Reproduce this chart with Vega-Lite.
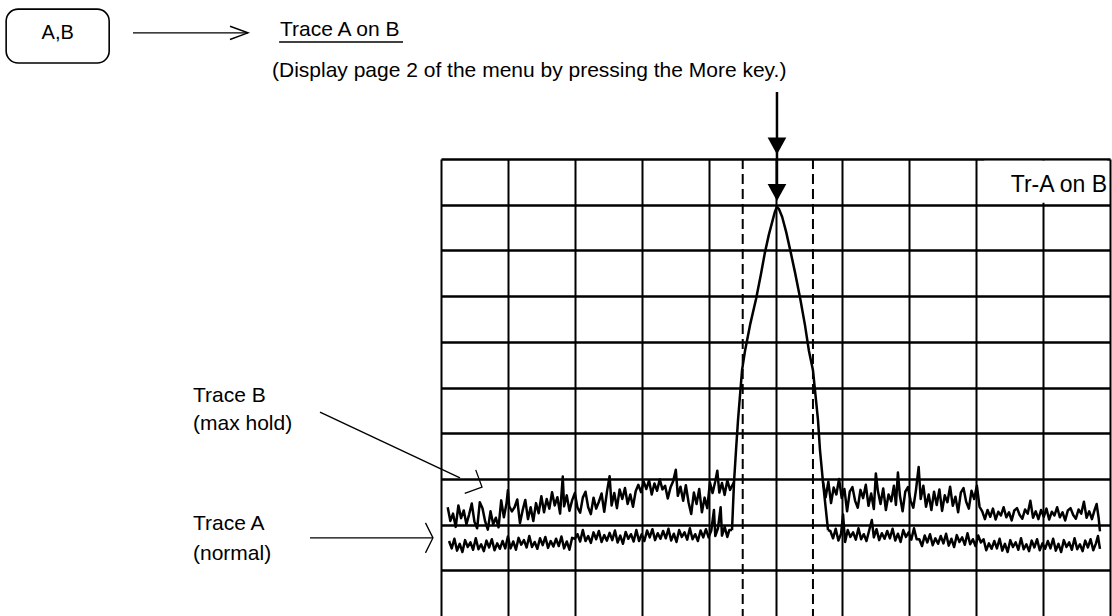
{
  "$schema": "https://vega.github.io/schema/vega-lite/v6.json",
  "width": 669,
  "height": 457,
  "autosize": {"type": "none"},
  "padding": {"left": 441, "top": 159, "right": 2, "bottom": 0},
  "background": "white",
  "config": {"view": {"stroke": null}},
  "datasets": {
    "traces": [
      {"trace":"B1","div":0.10,"dbm":-76.2},{"trace":"B1","div":0.14,"dbm":-79.2},{"trace":"B1","div":0.18,"dbm":-77.6},{"trace":"B1","div":0.22,"dbm":-80.5},{"trace":"B1","div":0.26,"dbm":-75.8},{"trace":"B1","div":0.30,"dbm":-78.6},{"trace":"B1","div":0.34,"dbm":-76.9},{"trace":"B1","div":0.38,"dbm":-79.9},{"trace":"B1","div":0.42,"dbm":-77.8},{"trace":"B1","div":0.46,"dbm":-75.4},{"trace":"B1","div":0.50,"dbm":-79.4},{"trace":"B1","div":0.54,"dbm":-80.8},{"trace":"B1","div":0.58,"dbm":-75.1},{"trace":"B1","div":0.62,"dbm":-76.4},{"trace":"B1","div":0.66,"dbm":-79.3},{"trace":"B1","div":0.70,"dbm":-81.1},{"trace":"B1","div":0.74,"dbm":-77.1},{"trace":"B1","div":0.78,"dbm":-79.9},{"trace":"B1","div":0.82,"dbm":-78.5},{"trace":"B1","div":0.86,"dbm":-80.6},{"trace":"B1","div":0.90,"dbm":-74.7},{"trace":"B1","div":0.94,"dbm":-78.4},{"trace":"B1","div":0.98,"dbm":-75.3},{"trace":"B1","div":1.00,"dbm":-72.5},{"trace":"B1","div":1.02,"dbm":-76.0},{"trace":"B1","div":1.06,"dbm":-77.1},{"trace":"B1","div":1.10,"dbm":-76.2},{"trace":"B1","div":1.14,"dbm":-74.5},{"trace":"B1","div":1.18,"dbm":-79.7},{"trace":"B1","div":1.22,"dbm":-76.9},{"trace":"B1","div":1.26,"dbm":-74.6},{"trace":"B1","div":1.30,"dbm":-78.8},{"trace":"B1","div":1.34,"dbm":-76.2},{"trace":"B1","div":1.38,"dbm":-79.2},{"trace":"B1","div":1.42,"dbm":-75.3},{"trace":"B1","div":1.46,"dbm":-77.5},{"trace":"B1","div":1.50,"dbm":-73.8},{"trace":"B1","div":1.54,"dbm":-77.3},{"trace":"B1","div":1.58,"dbm":-74.4},{"trace":"B1","div":1.62,"dbm":-76.5},{"trace":"B1","div":1.66,"dbm":-72.9},{"trace":"B1","div":1.70,"dbm":-75.8},{"trace":"B1","div":1.74,"dbm":-74.0},{"trace":"B1","div":1.78,"dbm":-77.6},{"trace":"B1","div":1.82,"dbm":-69.5},{"trace":"B1","div":1.84,"dbm":-76.0},{"trace":"B1","div":1.88,"dbm":-73.6},{"trace":"B1","div":1.92,"dbm":-77.0},{"trace":"B1","div":1.96,"dbm":-74.7},{"trace":"B1","div":2.00,"dbm":-73.1},{"trace":"B1","div":2.04,"dbm":-76.3},{"trace":"B1","div":2.08,"dbm":-77.4},{"trace":"B1","div":2.12,"dbm":-74.1},{"trace":"B1","div":2.16,"dbm":-72.8},{"trace":"B1","div":2.20,"dbm":-76.2},{"trace":"B1","div":2.24,"dbm":-77.7},{"trace":"B1","div":2.28,"dbm":-74.1},{"trace":"B1","div":2.32,"dbm":-76.5},{"trace":"B1","div":2.36,"dbm":-75.0},{"trace":"B1","div":2.40,"dbm":-73.2},{"trace":"B1","div":2.44,"dbm":-77.2},{"trace":"B1","div":2.48,"dbm":-72.9},{"trace":"B1","div":2.52,"dbm":-69.4},{"trace":"B1","div":2.55,"dbm":-75.8},{"trace":"B1","div":2.59,"dbm":-73.1},{"trace":"B1","div":2.63,"dbm":-76.4},{"trace":"B1","div":2.67,"dbm":-72.3},{"trace":"B1","div":2.71,"dbm":-74.4},{"trace":"B1","div":2.75,"dbm":-72.0},{"trace":"B1","div":2.79,"dbm":-75.5},{"trace":"B1","div":2.83,"dbm":-73.4},{"trace":"B1","div":2.87,"dbm":-76.1},{"trace":"B1","div":2.91,"dbm":-72.7},{"trace":"B1","div":2.95,"dbm":-71.3},{"trace":"B1","div":2.99,"dbm":-72.9},{"trace":"B1","div":3.03,"dbm":-70.6},{"trace":"B1","div":3.07,"dbm":-72.2},{"trace":"B1","div":3.11,"dbm":-70.3},{"trace":"B1","div":3.15,"dbm":-73.4},{"trace":"B1","div":3.19,"dbm":-71.0},{"trace":"B1","div":3.23,"dbm":-72.6},{"trace":"B1","div":3.27,"dbm":-70.1},{"trace":"B1","div":3.31,"dbm":-72.3},{"trace":"B1","div":3.35,"dbm":-71.5},{"trace":"B1","div":3.39,"dbm":-74.3},{"trace":"B1","div":3.43,"dbm":-71.9},{"trace":"B1","div":3.47,"dbm":-70.5},{"trace":"B1","div":3.51,"dbm":-68.0},{"trace":"B1","div":3.54,"dbm":-73.7},{"trace":"B1","div":3.58,"dbm":-71.7},{"trace":"B1","div":3.62,"dbm":-74.8},{"trace":"B1","div":3.66,"dbm":-71.4},{"trace":"B1","div":3.70,"dbm":-75.1},{"trace":"B1","div":3.74,"dbm":-77.7},{"trace":"B1","div":3.78,"dbm":-73.0},{"trace":"B1","div":3.82,"dbm":-75.5},{"trace":"B1","div":3.86,"dbm":-72.2},{"trace":"B1","div":3.90,"dbm":-77.3},{"trace":"B1","div":3.94,"dbm":-74.1},{"trace":"B1","div":3.98,"dbm":-76.4},{"trace":"B1","div":4.02,"dbm":-70.8},{"trace":"B1","div":4.06,"dbm":-73.1},{"trace":"B1","div":4.10,"dbm":-70.5},{"trace":"B1","div":4.13,"dbm":-68.2},{"trace":"B1","div":4.16,"dbm":-73.0},{"trace":"B1","div":4.20,"dbm":-70.9},{"trace":"B1","div":4.24,"dbm":-73.5},{"trace":"B1","div":4.28,"dbm":-70.3},{"trace":"B1","div":4.32,"dbm":-72.4},{"trace":"B1","div":4.38,"dbm":-70.7},
      {"trace":"A1","div":0.12,"dbm":-83.6},{"trace":"A1","div":0.16,"dbm":-85.2},{"trace":"A1","div":0.20,"dbm":-83.1},{"trace":"A1","div":0.24,"dbm":-85.7},{"trace":"A1","div":0.28,"dbm":-84.2},{"trace":"A1","div":0.32,"dbm":-86.0},{"trace":"A1","div":0.36,"dbm":-83.4},{"trace":"A1","div":0.40,"dbm":-84.9},{"trace":"A1","div":0.44,"dbm":-83.9},{"trace":"A1","div":0.48,"dbm":-85.5},{"trace":"A1","div":0.52,"dbm":-83.0},{"trace":"A1","div":0.56,"dbm":-85.4},{"trace":"A1","div":0.60,"dbm":-84.3},{"trace":"A1","div":0.64,"dbm":-85.8},{"trace":"A1","div":0.68,"dbm":-83.5},{"trace":"A1","div":0.72,"dbm":-85.0},{"trace":"A1","div":0.76,"dbm":-83.2},{"trace":"A1","div":0.80,"dbm":-85.6},{"trace":"A1","div":0.84,"dbm":-84.1},{"trace":"A1","div":0.88,"dbm":-85.3},{"trace":"A1","div":0.92,"dbm":-83.6},{"trace":"A1","div":0.96,"dbm":-85.2},{"trace":"A1","div":1.00,"dbm":-82.6},{"trace":"A1","div":1.04,"dbm":-85.2},{"trace":"A1","div":1.08,"dbm":-83.7},{"trace":"A1","div":1.12,"dbm":-85.5},{"trace":"A1","div":1.16,"dbm":-82.9},{"trace":"A1","div":1.20,"dbm":-84.4},{"trace":"A1","div":1.24,"dbm":-83.4},{"trace":"A1","div":1.28,"dbm":-85.0},{"trace":"A1","div":1.32,"dbm":-82.5},{"trace":"A1","div":1.36,"dbm":-84.9},{"trace":"A1","div":1.40,"dbm":-83.8},{"trace":"A1","div":1.44,"dbm":-85.3},{"trace":"A1","div":1.48,"dbm":-83.0},{"trace":"A1","div":1.52,"dbm":-84.5},{"trace":"A1","div":1.56,"dbm":-82.7},{"trace":"A1","div":1.60,"dbm":-85.1},{"trace":"A1","div":1.64,"dbm":-83.6},{"trace":"A1","div":1.68,"dbm":-84.8},{"trace":"A1","div":1.72,"dbm":-83.1},{"trace":"A1","div":1.76,"dbm":-84.7},{"trace":"A1","div":1.80,"dbm":-82.6},{"trace":"A1","div":1.84,"dbm":-85.2},{"trace":"A1","div":1.88,"dbm":-83.7},{"trace":"A1","div":1.92,"dbm":-85.5},{"trace":"A1","div":1.96,"dbm":-82.9},{"trace":"A1","div":2.00,"dbm":-83.1},{"trace":"A1","div":2.04,"dbm":-82.1},{"trace":"A1","div":2.08,"dbm":-83.7},{"trace":"A1","div":2.12,"dbm":-81.2},{"trace":"A1","div":2.16,"dbm":-83.6},{"trace":"A1","div":2.20,"dbm":-82.5},{"trace":"A1","div":2.24,"dbm":-84.0},{"trace":"A1","div":2.28,"dbm":-81.7},{"trace":"A1","div":2.32,"dbm":-83.2},{"trace":"A1","div":2.36,"dbm":-81.4},{"trace":"A1","div":2.40,"dbm":-83.8},{"trace":"A1","div":2.44,"dbm":-82.3},{"trace":"A1","div":2.48,"dbm":-83.5},{"trace":"A1","div":2.52,"dbm":-81.8},{"trace":"A1","div":2.56,"dbm":-83.4},{"trace":"A1","div":2.60,"dbm":-81.3},{"trace":"A1","div":2.64,"dbm":-83.9},{"trace":"A1","div":2.68,"dbm":-82.4},{"trace":"A1","div":2.72,"dbm":-84.2},{"trace":"A1","div":2.76,"dbm":-81.6},{"trace":"A1","div":2.80,"dbm":-83.1},{"trace":"A1","div":2.84,"dbm":-82.1},{"trace":"A1","div":2.88,"dbm":-83.7},{"trace":"A1","div":2.92,"dbm":-81.2},{"trace":"A1","div":2.96,"dbm":-83.6},{"trace":"A1","div":3.00,"dbm":-82.1},{"trace":"A1","div":3.04,"dbm":-83.6},{"trace":"A1","div":3.08,"dbm":-81.3},{"trace":"A1","div":3.12,"dbm":-82.8},{"trace":"A1","div":3.16,"dbm":-81.0},{"trace":"A1","div":3.20,"dbm":-83.4},{"trace":"A1","div":3.24,"dbm":-81.9},{"trace":"A1","div":3.28,"dbm":-83.1},{"trace":"A1","div":3.32,"dbm":-81.4},{"trace":"A1","div":3.36,"dbm":-83.0},{"trace":"A1","div":3.40,"dbm":-80.9},{"trace":"A1","div":3.44,"dbm":-83.5},{"trace":"A1","div":3.48,"dbm":-82.0},{"trace":"A1","div":3.52,"dbm":-83.8},{"trace":"A1","div":3.56,"dbm":-81.2},{"trace":"A1","div":3.60,"dbm":-82.7},{"trace":"A1","div":3.64,"dbm":-81.7},{"trace":"A1","div":3.68,"dbm":-83.3},{"trace":"A1","div":3.72,"dbm":-80.8},{"trace":"A1","div":3.76,"dbm":-83.2},{"trace":"A1","div":3.80,"dbm":-82.1},{"trace":"A1","div":3.84,"dbm":-83.6},{"trace":"A1","div":3.88,"dbm":-81.3},{"trace":"A1","div":3.92,"dbm":-82.8},{"trace":"A1","div":3.96,"dbm":-81.0},{"trace":"A1","div":4.00,"dbm":-82.8},{"trace":"A1","div":4.04,"dbm":-81.3},{"trace":"A1","div":4.08,"dbm":-76.8},{"trace":"A1","div":4.10,"dbm":-82.5},{"trace":"A1","div":4.14,"dbm":-80.8},{"trace":"A1","div":4.18,"dbm":-76.2},{"trace":"A1","div":4.20,"dbm":-82.4},{"trace":"A1","div":4.24,"dbm":-80.5},{"trace":"A1","div":4.28,"dbm":-82.7},{"trace":"A1","div":4.31,"dbm":-81.2},{"trace":"A1","div":4.35,"dbm":-81.2},
      {"trace":"P","div":4.35,"dbm":-81.2},{"trace":"P","div":4.38,"dbm":-70.7},{"trace":"P","div":4.41,"dbm":-63.7},{"trace":"P","div":4.44,"dbm":-57.1},{"trace":"P","div":4.50,"dbm":-46.2},{"trace":"P","div":4.544,"dbm":-42.0},{"trace":"P","div":4.62,"dbm":-36.3},{"trace":"P","div":4.71,"dbm":-30.6},{"trace":"P","div":4.78,"dbm":-25.4},{"trace":"P","div":4.84,"dbm":-20.6},{"trace":"P","div":4.90,"dbm":-16.6},{"trace":"P","div":4.95,"dbm":-13.8},{"trace":"P","div":4.99,"dbm":-11.6},{"trace":"P","div":5.02,"dbm":-10.5},{"trace":"P","div":5.05,"dbm":-10.9},{"trace":"P","div":5.10,"dbm":-12.7},{"trace":"P","div":5.16,"dbm":-16.0},{"trace":"P","div":5.23,"dbm":-20.6},{"trace":"P","div":5.29,"dbm":-24.7},{"trace":"P","div":5.37,"dbm":-30.6},{"trace":"P","div":5.44,"dbm":-36.3},{"trace":"P","div":5.50,"dbm":-42.0},{"trace":"P","div":5.56,"dbm":-46.2},{"trace":"P","div":5.605,"dbm":-52.7},{"trace":"P","div":5.635,"dbm":-57.1},{"trace":"P","div":5.665,"dbm":-63.7},{"trace":"P","div":5.71,"dbm":-70.7},{"trace":"P","div":5.785,"dbm":-81.2},
      {"trace":"B2","div":5.71,"dbm":-70.7},{"trace":"B2","div":5.75,"dbm":-74.0},{"trace":"B2","div":5.79,"dbm":-70.6},{"trace":"B2","div":5.83,"dbm":-75.3},{"trace":"B2","div":5.87,"dbm":-71.9},{"trace":"B2","div":5.91,"dbm":-73.4},{"trace":"B2","div":5.95,"dbm":-70.0},{"trace":"B2","div":5.99,"dbm":-74.2},{"trace":"B2","div":6.03,"dbm":-72.2},{"trace":"B2","div":6.07,"dbm":-77.1},{"trace":"B2","div":6.11,"dbm":-72.8},{"trace":"B2","div":6.15,"dbm":-71.8},{"trace":"B2","div":6.19,"dbm":-74.8},{"trace":"B2","div":6.23,"dbm":-76.3},{"trace":"B2","div":6.27,"dbm":-72.4},{"trace":"B2","div":6.31,"dbm":-74.2},{"trace":"B2","div":6.35,"dbm":-71.3},{"trace":"B2","div":6.39,"dbm":-75.9},{"trace":"B2","div":6.43,"dbm":-73.2},{"trace":"B2","div":6.47,"dbm":-76.6},{"trace":"B2","div":6.50,"dbm":-68.8},{"trace":"B2","div":6.53,"dbm":-72.6},{"trace":"B2","div":6.57,"dbm":-75.5},{"trace":"B2","div":6.61,"dbm":-72.1},{"trace":"B2","div":6.65,"dbm":-76.8},{"trace":"B2","div":6.69,"dbm":-73.4},{"trace":"B2","div":6.73,"dbm":-74.9},{"trace":"B2","div":6.77,"dbm":-71.5},{"trace":"B2","div":6.80,"dbm":-75.7},{"trace":"B2","div":6.83,"dbm":-68.6},{"trace":"B2","div":6.86,"dbm":-73.7},{"trace":"B2","div":6.90,"dbm":-77.1},{"trace":"B2","div":6.94,"dbm":-72.8},{"trace":"B2","div":6.98,"dbm":-71.8},{"trace":"B2","div":7.02,"dbm":-74.8},{"trace":"B2","div":7.06,"dbm":-76.3},{"trace":"B2","div":7.10,"dbm":-72.4},{"trace":"B2","div":7.14,"dbm":-67.4},{"trace":"B2","div":7.17,"dbm":-74.4},{"trace":"B2","div":7.21,"dbm":-71.5},{"trace":"B2","div":7.25,"dbm":-76.1},{"trace":"B2","div":7.29,"dbm":-73.4},{"trace":"B2","div":7.33,"dbm":-76.8},{"trace":"B2","div":7.37,"dbm":-72.8},{"trace":"B2","div":7.41,"dbm":-75.7},{"trace":"B2","div":7.45,"dbm":-72.3},{"trace":"B2","div":7.49,"dbm":-77.0},{"trace":"B2","div":7.53,"dbm":-73.6},{"trace":"B2","div":7.57,"dbm":-75.1},{"trace":"B2","div":7.61,"dbm":-71.7},{"trace":"B2","div":7.65,"dbm":-75.9},{"trace":"B2","div":7.69,"dbm":-73.9},{"trace":"B2","div":7.73,"dbm":-77.3},{"trace":"B2","div":7.77,"dbm":-73.0},{"trace":"B2","div":7.81,"dbm":-72.0},{"trace":"B2","div":7.85,"dbm":-75.0},{"trace":"B2","div":7.89,"dbm":-76.5},{"trace":"B2","div":7.93,"dbm":-72.6},{"trace":"B2","div":7.97,"dbm":-74.4},{"trace":"B2","div":8.01,"dbm":-71.5},{"trace":"B2","div":8.05,"dbm":-76.1},{"trace":"B2","div":8.09,"dbm":-77.1},{"trace":"B2","div":8.13,"dbm":-78.8},{"trace":"B2","div":8.17,"dbm":-76.8},{"trace":"B2","div":8.21,"dbm":-78.3},{"trace":"B2","div":8.25,"dbm":-76.5},{"trace":"B2","div":8.29,"dbm":-78.9},{"trace":"B2","div":8.33,"dbm":-77.2},{"trace":"B2","div":8.37,"dbm":-78.0},{"trace":"B2","div":8.41,"dbm":-76.2},{"trace":"B2","div":8.45,"dbm":-78.4},{"trace":"B2","div":8.49,"dbm":-77.3},{"trace":"B2","div":8.53,"dbm":-79.1},{"trace":"B2","div":8.57,"dbm":-76.9},{"trace":"B2","div":8.61,"dbm":-76.4},{"trace":"B2","div":8.65,"dbm":-77.9},{"trace":"B2","div":8.69,"dbm":-78.7},{"trace":"B2","div":8.73,"dbm":-76.7},{"trace":"B2","div":8.77,"dbm":-77.6},{"trace":"B2","div":8.81,"dbm":-74.8},{"trace":"B2","div":8.85,"dbm":-78.5},{"trace":"B2","div":8.89,"dbm":-77.1},{"trace":"B2","div":8.93,"dbm":-78.8},{"trace":"B2","div":8.97,"dbm":-76.8},{"trace":"B2","div":9.01,"dbm":-78.3},{"trace":"B2","div":9.05,"dbm":-76.5},{"trace":"B2","div":9.09,"dbm":-78.9},{"trace":"B2","div":9.13,"dbm":-77.2},{"trace":"B2","div":9.17,"dbm":-78.0},{"trace":"B2","div":9.21,"dbm":-76.2},{"trace":"B2","div":9.25,"dbm":-78.4},{"trace":"B2","div":9.29,"dbm":-77.3},{"trace":"B2","div":9.33,"dbm":-79.1},{"trace":"B2","div":9.37,"dbm":-76.9},{"trace":"B2","div":9.41,"dbm":-76.4},{"trace":"B2","div":9.45,"dbm":-77.9},{"trace":"B2","div":9.49,"dbm":-78.7},{"trace":"B2","div":9.53,"dbm":-76.7},{"trace":"B2","div":9.57,"dbm":-77.6},{"trace":"B2","div":9.61,"dbm":-75.0},{"trace":"B2","div":9.65,"dbm":-78.5},{"trace":"B2","div":9.69,"dbm":-77.1},{"trace":"B2","div":9.73,"dbm":-78.8},{"trace":"B2","div":9.77,"dbm":-76.8},{"trace":"B2","div":9.80,"dbm":-75.5},{"trace":"B2","div":9.83,"dbm":-78.5},{"trace":"B2","div":9.85,"dbm":-81.5},
      {"trace":"A2","div":5.785,"dbm":-81.2},{"trace":"A2","div":5.82,"dbm":-81.4},{"trace":"A2","div":5.86,"dbm":-83.0},{"trace":"A2","div":5.90,"dbm":-80.9},{"trace":"A2","div":5.94,"dbm":-83.5},{"trace":"A2","div":5.98,"dbm":-82.0},{"trace":"A2","div":6.01,"dbm":-77.8},{"trace":"A2","div":6.04,"dbm":-83.8},{"trace":"A2","div":6.08,"dbm":-81.2},{"trace":"A2","div":6.12,"dbm":-82.7},{"trace":"A2","div":6.16,"dbm":-81.7},{"trace":"A2","div":6.20,"dbm":-83.3},{"trace":"A2","div":6.24,"dbm":-80.8},{"trace":"A2","div":6.28,"dbm":-83.2},{"trace":"A2","div":6.32,"dbm":-82.1},{"trace":"A2","div":6.36,"dbm":-83.6},{"trace":"A2","div":6.40,"dbm":-81.3},{"trace":"A2","div":6.44,"dbm":-79.0},{"trace":"A2","div":6.47,"dbm":-82.8},{"trace":"A2","div":6.51,"dbm":-81.0},{"trace":"A2","div":6.55,"dbm":-83.4},{"trace":"A2","div":6.59,"dbm":-81.9},{"trace":"A2","div":6.63,"dbm":-83.1},{"trace":"A2","div":6.67,"dbm":-81.4},{"trace":"A2","div":6.71,"dbm":-83.0},{"trace":"A2","div":6.75,"dbm":-80.9},{"trace":"A2","div":6.79,"dbm":-83.5},{"trace":"A2","div":6.83,"dbm":-82.0},{"trace":"A2","div":6.87,"dbm":-83.8},{"trace":"A2","div":6.91,"dbm":-81.2},{"trace":"A2","div":6.95,"dbm":-82.7},{"trace":"A2","div":6.99,"dbm":-81.7},{"trace":"A2","div":7.03,"dbm":-83.3},{"trace":"A2","div":7.07,"dbm":-80.8},{"trace":"A2","div":7.11,"dbm":-83.2},{"trace":"A2","div":7.15,"dbm":-83.2},{"trace":"A2","div":7.19,"dbm":-84.7},{"trace":"A2","div":7.23,"dbm":-82.4},{"trace":"A2","div":7.27,"dbm":-83.9},{"trace":"A2","div":7.31,"dbm":-82.1},{"trace":"A2","div":7.35,"dbm":-84.5},{"trace":"A2","div":7.39,"dbm":-83.0},{"trace":"A2","div":7.43,"dbm":-84.2},{"trace":"A2","div":7.47,"dbm":-82.5},{"trace":"A2","div":7.51,"dbm":-84.1},{"trace":"A2","div":7.55,"dbm":-82.0},{"trace":"A2","div":7.59,"dbm":-84.6},{"trace":"A2","div":7.63,"dbm":-83.1},{"trace":"A2","div":7.67,"dbm":-84.9},{"trace":"A2","div":7.71,"dbm":-82.3},{"trace":"A2","div":7.75,"dbm":-83.8},{"trace":"A2","div":7.79,"dbm":-82.8},{"trace":"A2","div":7.83,"dbm":-84.4},{"trace":"A2","div":7.87,"dbm":-81.9},{"trace":"A2","div":7.91,"dbm":-84.3},{"trace":"A2","div":7.95,"dbm":-83.2},{"trace":"A2","div":7.99,"dbm":-84.7},{"trace":"A2","div":8.03,"dbm":-82.4},{"trace":"A2","div":8.07,"dbm":-83.9},{"trace":"A2","div":8.11,"dbm":-83.2},{"trace":"A2","div":8.15,"dbm":-85.6},{"trace":"A2","div":8.19,"dbm":-84.1},{"trace":"A2","div":8.23,"dbm":-85.3},{"trace":"A2","div":8.27,"dbm":-83.6},{"trace":"A2","div":8.31,"dbm":-85.2},{"trace":"A2","div":8.35,"dbm":-83.1},{"trace":"A2","div":8.39,"dbm":-85.7},{"trace":"A2","div":8.43,"dbm":-84.2},{"trace":"A2","div":8.47,"dbm":-86.0},{"trace":"A2","div":8.51,"dbm":-83.4},{"trace":"A2","div":8.55,"dbm":-84.9},{"trace":"A2","div":8.59,"dbm":-83.9},{"trace":"A2","div":8.63,"dbm":-85.5},{"trace":"A2","div":8.67,"dbm":-83.0},{"trace":"A2","div":8.71,"dbm":-85.4},{"trace":"A2","div":8.75,"dbm":-84.3},{"trace":"A2","div":8.79,"dbm":-85.8},{"trace":"A2","div":8.83,"dbm":-83.5},{"trace":"A2","div":8.87,"dbm":-85.0},{"trace":"A2","div":8.91,"dbm":-83.2},{"trace":"A2","div":8.95,"dbm":-85.6},{"trace":"A2","div":8.99,"dbm":-84.1},{"trace":"A2","div":9.03,"dbm":-85.3},{"trace":"A2","div":9.07,"dbm":-83.6},{"trace":"A2","div":9.11,"dbm":-85.2},{"trace":"A2","div":9.15,"dbm":-83.1},{"trace":"A2","div":9.19,"dbm":-85.7},{"trace":"A2","div":9.23,"dbm":-84.2},{"trace":"A2","div":9.27,"dbm":-86.0},{"trace":"A2","div":9.31,"dbm":-83.4},{"trace":"A2","div":9.35,"dbm":-84.9},{"trace":"A2","div":9.39,"dbm":-83.9},{"trace":"A2","div":9.43,"dbm":-85.5},{"trace":"A2","div":9.47,"dbm":-83.0},{"trace":"A2","div":9.51,"dbm":-85.4},{"trace":"A2","div":9.55,"dbm":-84.3},{"trace":"A2","div":9.59,"dbm":-85.8},{"trace":"A2","div":9.63,"dbm":-83.5},{"trace":"A2","div":9.67,"dbm":-85.0},{"trace":"A2","div":9.71,"dbm":-83.2},{"trace":"A2","div":9.75,"dbm":-85.6},{"trace":"A2","div":9.79,"dbm":-84.1},{"trace":"A2","div":9.82,"dbm":-82.5},{"trace":"A2","div":9.85,"dbm":-85.3}
    ],
    "markers": [{"div": 4.51}, {"div": 5.56}],
    "titleCell": [{"div": 8.12, "div2": 9.96, "dbm": -0.4, "dbm2": -9.6}],
    "thinLines": [
      {"div": -4.604, "dbm": 27.6, "div2": -2.885, "dbm2": 27.6},
      {"div": -1.809, "dbm": -55.4, "div2": 0.284, "dbm2": -69.8},
      {"div": -1.958, "dbm": -82.9, "div2": -0.12, "dbm2": -82.9},
      {"div": -2.42, "dbm": 25.6, "div2": -0.568, "dbm2": 25.6}
    ],
    "shaft": [{"div": 5.022, "dbm": 14.66, "div2": 5.022, "dbm2": -8.6}],
    "heads": [{"div": 5.022, "dbm": 2.84}, {"div": 5.022, "dbm": -7.33}],
    "headTop": [{"div": -2.885, "dbm": 27.6}],
    "headB": [{"div": 0.613, "dbm": -71.8}],
    "headA": [{"div": -0.12, "dbm": -82.9}],
    "keyBox": [{"div": -6.50, "dbm": 32.8, "div2": -4.96, "dbm2": 21.0}],
    "keyLabel": [{"label": "A,B", "div": -5.73, "dbm": 27.6}],
    "leftTexts": [
      {"label": "Trace A on B", "div": -2.407, "dbm": 26.9},
      {"label": "(Display page 2 of the menu by pressing the More key.)", "div": -2.526, "dbm": 17.9},
      {"label": "Trace B", "div": -3.707, "dbm": -53.2},
      {"label": "(max hold)", "div": -3.707, "dbm": -59.3},
      {"label": "Trace A", "div": -3.707, "dbm": -81.2},
      {"label": "(normal)", "div": -3.707, "dbm": -87.7}
    ],
    "screenTitle": [{"label": "Tr-A on B", "div": 9.955, "dbm": -7.22}]
  },
  "layer": [
    {
      "data": {"name": "traces"},
      "mark": {"type": "line", "color": "black", "strokeWidth": 2.5, "strokeJoin": "round"},
      "encoding": {
        "x": {"field": "div", "type": "quantitative", "scale": {"domain": [0, 10], "nice": false, "zero": false},
              "axis": {"values": [0,1,2,3,4,5,6,7,8,9,10], "grid": true, "gridColor": "black", "gridWidth": 2, "gridOpacity": 1, "labels": false, "ticks": false, "domain": false, "title": null}},
        "y": {"field": "dbm", "type": "quantitative", "scale": {"domain": [-100, 0], "nice": false, "zero": false},
              "axis": {"values": [-90,-80,-70,-60,-50,-40,-30,-20,-10,0], "grid": true, "gridColor": "black", "gridWidth": 2.5, "gridOpacity": 1, "labels": false, "ticks": false, "domain": false, "title": null}},
        "detail": {"field": "trace"}
      }
    },
    {
      "data": {"name": "titleCell"},
      "mark": {"type": "rect", "fill": "white", "strokeWidth": 0},
      "encoding": {
        "x": {"field": "div", "type": "quantitative"}, "y": {"field": "dbm", "type": "quantitative"},
        "x2": {"field": "div2"}, "y2": {"field": "dbm2"}
      }
    },
    {
      "data": {"name": "markers"},
      "mark": {"type": "rule", "color": "black", "strokeWidth": 2, "strokeDash": [10, 5]},
      "encoding": {"x": {"field": "div", "type": "quantitative"}}
    },
    {
      "data": {"name": "thinLines"},
      "mark": {"type": "rule", "color": "black", "strokeWidth": 1.4},
      "encoding": {
        "x": {"field": "div", "type": "quantitative"}, "y": {"field": "dbm", "type": "quantitative"},
        "x2": {"field": "div2"}, "y2": {"field": "dbm2"}
      }
    },
    {
      "data": {"name": "shaft"},
      "mark": {"type": "rule", "color": "black", "strokeWidth": 2.5},
      "encoding": {
        "x": {"field": "div", "type": "quantitative"}, "y": {"field": "dbm", "type": "quantitative"},
        "x2": {"field": "div2"}, "y2": {"field": "dbm2"}
      }
    },
    {
      "data": {"name": "heads"},
      "mark": {"type": "point", "shape": "M-1.1,-1L1.1,-1L0,1Z", "size": 289, "filled": true, "color": "black", "opacity": 1},
      "encoding": {"x": {"field": "div", "type": "quantitative"}, "y": {"field": "dbm", "type": "quantitative"}}
    },
    {
      "data": {"name": "headTop"},
      "mark": {"type": "point", "shape": "M-3,-1.1L0,0L-3,1.1", "size": 144, "filled": false, "color": "black", "strokeWidth": 1.4, "opacity": 1},
      "encoding": {"x": {"field": "div", "type": "quantitative"}, "y": {"field": "dbm", "type": "quantitative"}}
    },
    {
      "data": {"name": "headB"},
      "mark": {"type": "point", "shape": "M-1,-1L0,0L-1,1", "size": 676, "angle": 25, "filled": false, "color": "black", "strokeWidth": 1.3, "opacity": 1},
      "encoding": {"x": {"field": "div", "type": "quantitative"}, "y": {"field": "dbm", "type": "quantitative"}}
    },
    {
      "data": {"name": "headA"},
      "mark": {"type": "point", "shape": "M-1,-2L0,0L-1,2", "size": 225, "filled": false, "color": "black", "strokeWidth": 1.3, "opacity": 1},
      "encoding": {"x": {"field": "div", "type": "quantitative"}, "y": {"field": "dbm", "type": "quantitative"}}
    },
    {
      "data": {"name": "keyBox"},
      "mark": {"type": "rect", "fill": "white", "fillOpacity": 0, "stroke": "black", "strokeWidth": 1.6, "cornerRadius": 12},
      "encoding": {
        "x": {"field": "div", "type": "quantitative"}, "y": {"field": "dbm", "type": "quantitative"},
        "x2": {"field": "div2"}, "y2": {"field": "dbm2"}
      }
    },
    {
      "data": {"name": "keyLabel"},
      "mark": {"type": "text", "font": "Liberation Sans", "fontSize": 20, "align": "center", "baseline": "middle", "color": "black"},
      "encoding": {
        "x": {"field": "div", "type": "quantitative"}, "y": {"field": "dbm", "type": "quantitative"},
        "text": {"field": "label"}
      }
    },
    {
      "data": {"name": "leftTexts"},
      "mark": {"type": "text", "font": "Liberation Sans", "fontSize": 21, "align": "left", "baseline": "alphabetic", "color": "black"},
      "encoding": {
        "x": {"field": "div", "type": "quantitative"}, "y": {"field": "dbm", "type": "quantitative"},
        "text": {"field": "label"}
      }
    },
    {
      "data": {"name": "screenTitle"},
      "mark": {"type": "text", "font": "Liberation Sans", "fontSize": 23, "align": "right", "baseline": "alphabetic", "color": "black"},
      "encoding": {
        "x": {"field": "div", "type": "quantitative"}, "y": {"field": "dbm", "type": "quantitative"},
        "text": {"field": "label"}
      }
    }
  ]
}
